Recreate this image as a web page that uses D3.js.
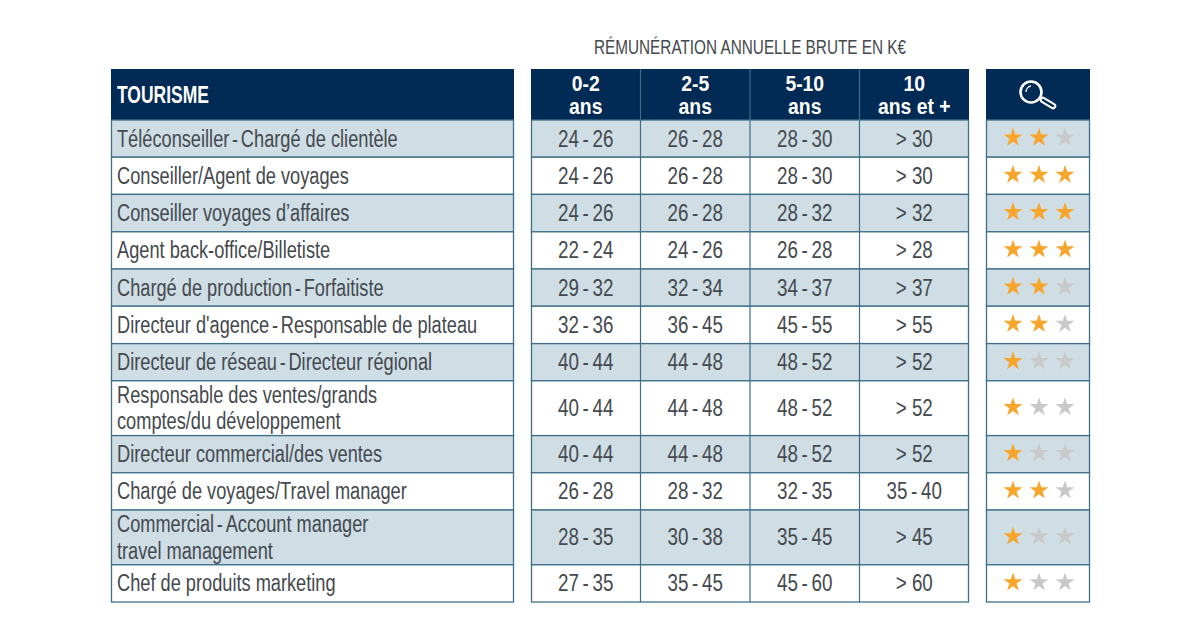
<!DOCTYPE html>
<html><head><meta charset="utf-8">
<script src="https://cdn.jsdelivr.net/npm/d3@7"></script>
<style>html,body{margin:0;background:#fff}svg{display:block}
text{font-family:"Liberation Sans",sans-serif}</style></head>
<body><svg id="c" width="1200" height="635"></svg>
<script>
const title = "RÉMUNÉRATION ANNUELLE BRUTE EN K€";
const sector = "TOURISME";
const columns = [["0-2","ans"],["2-5","ans"],["5-10","ans"],["10","ans et +"]];
const jobs = [
 ["Téléconseiller - Chargé de clientèle"],
 ["Conseiller/Agent de voyages"],
 ["Conseiller voyages d’affaires"],
 ["Agent back-office/Billetiste"],
 ["Chargé de production - Forfaitiste"],
 ["Directeur d'agence - Responsable de plateau"],
 ["Directeur de réseau - Directeur régional"],
 ["Responsable des ventes/grands","comptes/du développement"],
 ["Directeur commercial/des ventes"],
 ["Chargé de voyages/Travel manager"],
 ["Commercial - Account manager","travel management"],
 ["Chef de produits marketing"]
];
const col0 = ["24 - 26","24 - 26","24 - 26","22 - 24","29 - 32","32 - 36","40 - 44","40 - 44","40 - 44","26 - 28","28 - 35","27 - 35"];
const col1 = ["26 - 28","26 - 28","26 - 28","24 - 26","32 - 34","36 - 45","44 - 48","44 - 48","44 - 48","28 - 32","30 - 38","35 - 45"];
const col2 = ["28 - 30","28 - 30","28 - 32","26 - 28","34 - 37","45 - 55","48 - 52","48 - 52","48 - 52","32 - 35","35 - 45","45 - 60"];
const col3 = ["> 30","> 30","> 32","> 28","> 37","> 55","> 52","> 52","> 52","35 - 40","> 45","> 60"];
const stars = [2,3,3,3,2,2,1,1,1,2,1,1];

const NAVY="#012a54", BAND="#cfdde5", LINE="#3f6f88", TXT="#44494e";
const svg=d3.select("#c");
const rowH=[37.2,37.2,37.4,37.2,37.2,37.4,37.2,54.8,37.2,37.2,54.8,37.2];
const tops=[120]; rowH.forEach((h,i)=>tops.push(tops[i]+h));
const headTop=69, headBottom=120, bottom=tops[tops.length-1];
const blocks=[[111,514],[531,969],[986,1090]];
const xCol=d3.scaleBand().domain(d3.range(columns.length)).range([531,969]);
const xStar=d3.scalePoint().domain([0,1,2]).range([1013,1065]);

function label(g,str,x,y,size,sx,fill,anchor,bold,gap){
 const t=g.append("text").attr("transform",`translate(${x},${y}) scale(${sx},1)`)
  .attr("font-size",size).attr("fill",fill).attr("text-anchor",anchor||"start");
 if(bold) t.attr("font-weight",700);
 str.split(" - ").forEach((part,i)=>{
  if(i) t.append("tspan").attr("word-spacing",gap===undefined?-3:gap).text(" - ");
  t.append("tspan").text(part);
 });
 return t;
}

svg.selectAll("rect.h").data(blocks).join("rect").attr("class","h")
 .attr("x",d=>d[0]).attr("y",headTop).attr("width",d=>d[1]-d[0]).attr("height",headBottom-headTop).attr("fill",NAVY);
jobs.forEach((job,i)=>{
 const g=svg.append("g");
 blocks.forEach(b=>{
  g.append("rect").attr("x",b[0]+.5).attr("y",tops[i]).attr("width",b[1]-b[0]-1).attr("height",rowH[i])
   .attr("fill",i%2?"#fff":BAND).attr("stroke",LINE).attr("stroke-width",1.3);
 });
 const cy=tops[i]+rowH[i]/2;
 job.forEach((t,k)=>label(g,t,117,cy+8+(k-(job.length-1)/2)*26.5,23.5,.775,TXT));
 [col0,col1,col2,col3].forEach((c,j)=>
  label(g,c[i],xCol(j)+xCol.bandwidth()/2,cy+8,23.5,.8,TXT,"middle",false,-2));
 d3.range(3).forEach(s=>{
  g.append("path").attr("d",d3.symbol(d3.symbolStar,112)())
   .attr("transform",`translate(${xStar(s)},${cy-1})`)
   .attr("fill",s<stars[i]?"#f8a52c":"#c9c9c9");
 });
});
d3.range(1,columns.length).forEach(j=>{
 svg.append("line").attr("x1",xCol(j)).attr("x2",xCol(j)).attr("y1",headTop).attr("y2",bottom).attr("stroke",LINE).attr("stroke-width",1.2);
});
label(svg,title,750,54,21,.73,TXT,"middle");
label(svg,sector,117,102.5,23,.76,"#fff","start",true);
columns.forEach((c,j)=>c.forEach((t,k)=>
 label(svg,t,xCol(j)+xCol.bandwidth()/2,91+k*23,22,.88,"#fff","middle",true)));
const ic=svg.append("g").attr("fill","none").attr("stroke","#fff");
ic.append("circle").attr("cx",1031).attr("cy",92).attr("r",10.5).attr("stroke-width",2.6);
ic.append("path").attr("d","M1026 92a6 6 0 0 1 5-6").attr("stroke-width",1.3);
ic.append("line").attr("x1",1043).attr("y1",100).attr("x2",1053).attr("y2",106).attr("stroke-width",6.6).attr("stroke-linecap","round");
ic.append("line").attr("x1",1043).attr("y1",100).attr("x2",1053).attr("y2",106).attr("stroke",NAVY).attr("stroke-width",2.4).attr("stroke-linecap","round");
</script></body></html>
